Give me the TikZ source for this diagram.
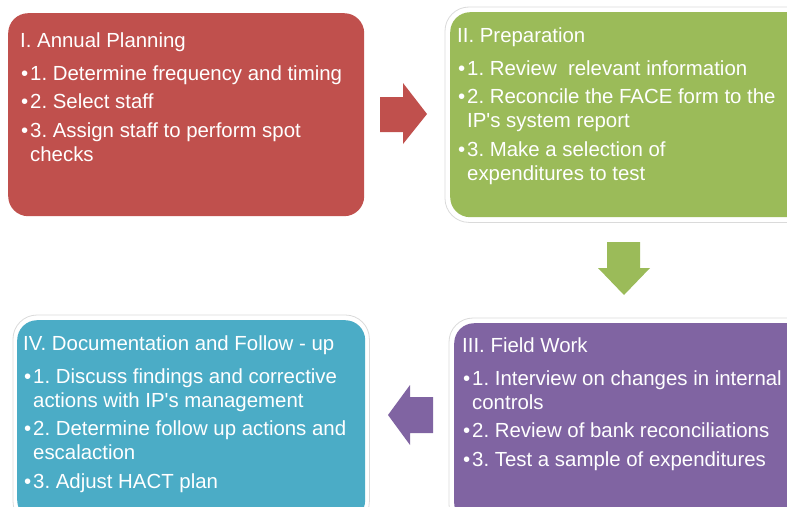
\documentclass[tikz,border=0pt]{standalone}
\usepackage{fontspec}
\setmainfont{Liberation Sans}
\usetikzlibrary{calc}
\definecolor{planred}{HTML}{C0504D}
\definecolor{prepgreen}{HTML}{9BBB59}
\definecolor{fieldpurple}{HTML}{8064A2}
\definecolor{docublue}{HTML}{4BACC6}
\definecolor{halogray}{HTML}{DADADA}
\frenchspacing
\newcommand{\stepdot}{\makebox[10pt][l]{\hspace{1pt}\textbullet}}
\newcommand{\stepgap}{\hspace*{10pt}}
\tikzset{
 stepbox/.style={rectangle,rounded corners=20pt,anchor=north west,inner sep=0,draw=none},
 halo/.style={draw=halogray,line width=.8pt,rounded corners=24pt},
 steptext/.style={anchor=north west,inner sep=0,align=left,text=white,font=\fontsize{20.4}{24}\selectfont}
}
\begin{document}
\begin{tikzpicture}[x=1pt,y=-1pt]
\path[use as bounding box] (0,0) rectangle (787,506);
\node[stepbox,fill=planred,minimum width=356pt,minimum height=203pt] (plan) at (8,13) {};
\node[stepbox,fill=prepgreen,minimum width=360pt,minimum height=205pt] (prep) at (450,12) {};
\node[stepbox,fill=fieldpurple,minimum width=360pt,minimum height=200pt] (field) at (454,323) {};
\node[stepbox,fill=docublue,minimum width=348pt,minimum height=200pt] (docu) at (17,320) {};
\draw[halo] ($(prep.north west)+(-5,-5)$) rectangle ($(prep.south east)+(5,5)$);
\draw[halo] ($(field.north west)+(-5,-5)$) rectangle ($(field.south east)+(5,5)$);
\draw[halo] ($(docu.north west)+(-4,-5)$) rectangle ($(docu.south east)+(4,5)$);
\node[steptext] (plantext) at ($(plan.north west)+(12,19.5)$) {I. Annual Planning\\[9pt]
 \stepdot 1. Determine frequency and timing\\[4.5pt]
 \stepdot 2. Select staff\\[4.5pt]
 \stepdot 3. Assign staff to perform spot\\
 \stepgap checks};
\node[steptext] (preptext) at ($(prep.north west)+(7,15.5)$) {II. Preparation\\[9pt]
 \stepdot 1. Review~ relevant information\\[4.5pt]
 \stepdot 2. Reconcile the FACE form to the\\
 \stepgap IP\textquotesingle s system report\\[4.5pt]
 \stepdot 3. Make a selection of\\
 \stepgap expenditures to test};
\node[steptext] (fieldtext) at ($(field.north west)+(8,14.5)$) {III. Field Work\\[9pt]
 \stepdot 1. Interview on changes in internal\\
 \stepgap controls\\[4.5pt]
 \stepdot 2. Review of bank reconciliations\\[4.5pt]
 \stepdot 3. Test a sample of expenditures};
\node[steptext] (docutext) at ($(docu.north west)+(6,15.5)$) {IV. Documentation and Follow - up\\[9pt]
 \stepdot 1. Discuss findings and corrective\\
 \stepgap actions with IP\textquotesingle s management\\[4.5pt]
 \stepdot 2. Determine follow up actions and\\
 \stepgap escalaction\\[4.5pt]
 \stepdot 3. Adjust HACT plan};
\fill[planred] (380,97) -- (403,97) -- (403,83) -- (427,114) -- (403,144) -- (403,132) -- (380,132) -- cycle;
\fill[prepgreen] (607,242) -- (640,242) -- (640,268) -- (650,268) -- (624,295) -- (598,268) -- (607,268) -- cycle;
\fill[fieldpurple] (433,397) -- (410,397) -- (410,385) -- (388,415) -- (410,445) -- (410,433) -- (433,433) -- cycle;
\end{tikzpicture}
\end{document}
